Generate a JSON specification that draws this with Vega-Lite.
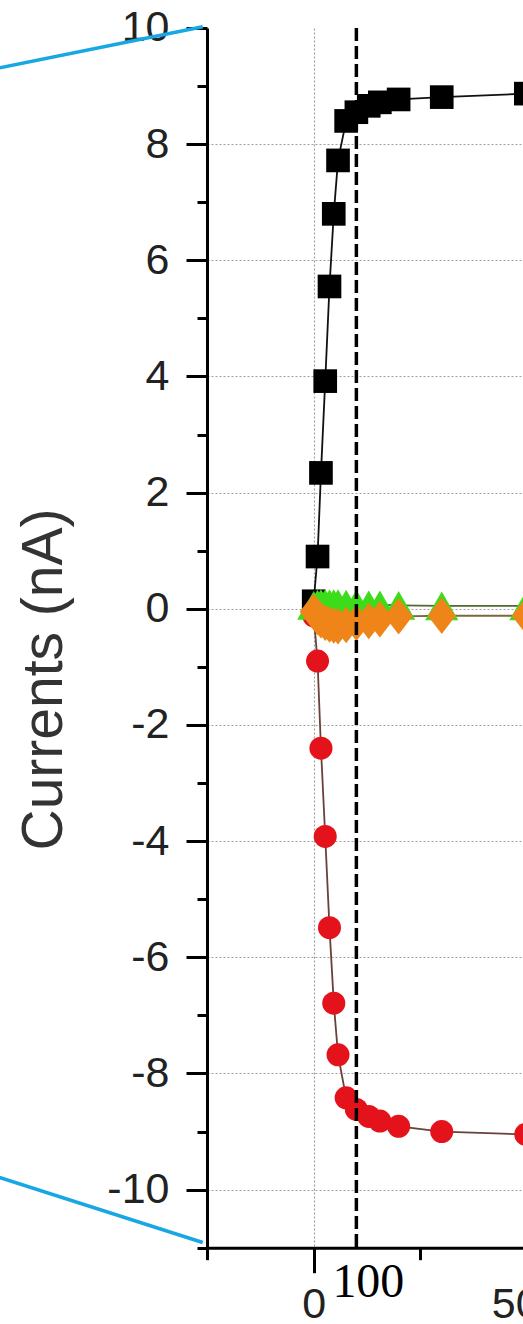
{
  "$schema": "https://vega.github.io/schema/vega-lite/v6.json",
  "autosize": {"type": "none"},
  "padding": {"left": 207, "top": 28, "right": 0, "bottom": 80},
  "width": 533.5,
  "height": 1219.7,
  "background": "white",
  "config": {"view": {"stroke": null}, "font": "Liberation Sans"},
  "datasets": {
    "currents": [
      {"series": "S1", "t": 0, "v": 0.13},
      {"series": "S1", "t": 9, "v": 0.9},
      {"series": "S1", "t": 17, "v": 2.34},
      {"series": "S1", "t": 27, "v": 3.92},
      {"series": "S1", "t": 37, "v": 5.55},
      {"series": "S1", "t": 47, "v": 6.8},
      {"series": "S1", "t": 57, "v": 7.72},
      {"series": "S1", "t": 76, "v": 8.4},
      {"series": "S1", "t": 100, "v": 8.55},
      {"series": "S1", "t": 129, "v": 8.66},
      {"series": "S1", "t": 155, "v": 8.72},
      {"series": "S1", "t": 199, "v": 8.77},
      {"series": "S1", "t": 300, "v": 8.81},
      {"series": "S1", "t": 497, "v": 8.87},
      {"series": "S2", "t": 0, "v": -0.12},
      {"series": "S2", "t": 9, "v": -0.9},
      {"series": "S2", "t": 17, "v": -2.4},
      {"series": "S2", "t": 27, "v": -3.92},
      {"series": "S2", "t": 37, "v": -5.49},
      {"series": "S2", "t": 47, "v": -6.79},
      {"series": "S2", "t": 57, "v": -7.68},
      {"series": "S2", "t": 76, "v": -8.42},
      {"series": "S2", "t": 100, "v": -8.62},
      {"series": "S2", "t": 129, "v": -8.74},
      {"series": "S2", "t": 155, "v": -8.82},
      {"series": "S2", "t": 199, "v": -8.91},
      {"series": "S2", "t": 300, "v": -9.0},
      {"series": "S2", "t": 497, "v": -9.05},
      {"series": "S3", "t": 0, "v": 0.06},
      {"series": "S3", "t": 9, "v": 0.08},
      {"series": "S3", "t": 17, "v": 0.09},
      {"series": "S3", "t": 27, "v": 0.09},
      {"series": "S3", "t": 37, "v": 0.09},
      {"series": "S3", "t": 47, "v": 0.09},
      {"series": "S3", "t": 57, "v": 0.09},
      {"series": "S3", "t": 76, "v": 0.08},
      {"series": "S3", "t": 100, "v": 0.08},
      {"series": "S3", "t": 129, "v": 0.07},
      {"series": "S3", "t": 155, "v": 0.07},
      {"series": "S3", "t": 199, "v": 0.06},
      {"series": "S3", "t": 300, "v": 0.05},
      {"series": "S3", "t": 497, "v": 0.05},
      {"series": "S4", "t": 0, "v": -0.05},
      {"series": "S4", "t": 9, "v": -0.14},
      {"series": "S4", "t": 17, "v": -0.2},
      {"series": "S4", "t": 27, "v": -0.24},
      {"series": "S4", "t": 37, "v": -0.27},
      {"series": "S4", "t": 47, "v": -0.29},
      {"series": "S4", "t": 57, "v": -0.3},
      {"series": "S4", "t": 76, "v": -0.28},
      {"series": "S4", "t": 100, "v": -0.24},
      {"series": "S4", "t": 129, "v": -0.21},
      {"series": "S4", "t": 155, "v": -0.18},
      {"series": "S4", "t": 199, "v": -0.13},
      {"series": "S4", "t": 300, "v": -0.12},
      {"series": "S4", "t": 497, "v": -0.12}
    ],
    "zoomGuides": [
      {"t": -800, "v": 9.22, "t2": -260, "v2": 10.02},
      {"t": -800, "v": -9.64, "t2": -260, "v2": -10.91}
    ],
    "marker": [{"t": 100, "label": "100"}]
  },
  "layer": [
    {
      "data": {"name": "zoomGuides"},
      "mark": {"type": "rule", "color": "#17a7e3", "strokeWidth": 3.5, "clip": false},
      "encoding": {
        "x": {
          "field": "t", "type": "quantitative",
          "scale": {"domain": [-250, 1000], "nice": false, "zero": false},
          "axis": {
            "title": null,
            "values": [-250, 0, 250, 500, 750, 1000],
            "labelExpr": "datum.value % 500 === 0 ? '' + datum.value : ''",
            "labelFont": "Liberation Sans", "labelFontSize": 43, "labelColor": "#222",
            "labelPadding": 11, "labelFlush": false, "labelOverlap": false,
            "tickSize": {"condition": {"test": "datum.value % 500 !== 0", "value": 12}, "value": 25},
            "tickWidth": 3, "tickColor": "black",
            "domainWidth": 3, "domainColor": "black",
            "grid": true, "gridDash": [2, 2], "gridColor": "#a0a0a0", "gridWidth": 1.2,
            "gridOpacity": {"condition": {"test": "datum.value % 500 !== 0", "value": 0}, "value": 1}
          }
        },
        "y": {
          "field": "v", "type": "quantitative",
          "scale": {"domain": [-11, 10], "nice": false, "zero": false},
          "axis": {
            "title": "Currents (nA)",
            "values": [-11, -10, -9, -8, -7, -6, -5, -4, -3, -2, -1, 0, 1, 2, 3, 4, 5, 6, 7, 8, 9, 10],
            "labelExpr": "datum.value % 2 === 0 ? '' + datum.value : ''",
            "labelFont": "Liberation Sans", "labelFontSize": 43, "labelColor": "#222",
            "labelPadding": 17, "labelFlush": false, "labelOverlap": false,
            "tickSize": {"condition": {"test": "datum.value % 2 !== 0", "value": 10}, "value": 21},
            "tickWidth": 3, "tickColor": "black",
            "domainWidth": 3, "domainColor": "black",
            "grid": true, "gridDash": [2, 2], "gridColor": "#a0a0a0", "gridWidth": 1.2,
            "gridOpacity": {"condition": {"test": "datum.value % 2 !== 0 || datum.value === 10", "value": 0}, "value": 1},
            "titleFont": "Liberation Sans", "titleFontSize": 57, "titleFontWeight": "normal", "titleColor": "#333",
            "titleX": -163, "titleY": 651, "titleAngle": -90, "titleAlign": "center", "titleBaseline": "middle"
          }
        },
        "x2": {"field": "t2"},
        "y2": {"field": "v2"}
      }
    },
    {
      "data": {"name": "currents"},
      "mark": {"type": "line", "strokeWidth": 1.8},
      "encoding": {
        "x": {"field": "t", "type": "quantitative"},
        "y": {"field": "v", "type": "quantitative"},
        "color": {
          "field": "series", "type": "nominal", "legend": null,
          "scale": {"domain": ["S1", "S2", "S3", "S4"], "range": ["#111111", "#6a4038", "#4f6a2e", "#7a6a3a"]}
        }
      }
    },
    {
      "data": {"name": "currents"},
      "transform": [{"filter": "datum.series === 'S1'"}],
      "mark": {"type": "point", "shape": "square", "filled": true, "size": 560, "color": "#000000", "opacity": 1},
      "encoding": {
        "x": {"field": "t", "type": "quantitative"},
        "y": {"field": "v", "type": "quantitative"}
      }
    },
    {
      "data": {"name": "currents"},
      "transform": [{"filter": "datum.series === 'S2'"}],
      "mark": {"type": "point", "shape": "circle", "filled": true, "size": 530, "color": "#e3121b", "opacity": 1},
      "encoding": {
        "x": {"field": "t", "type": "quantitative"},
        "y": {"field": "v", "type": "quantitative"}
      }
    },
    {
      "data": {"name": "currents"},
      "transform": [{"filter": "datum.series === 'S3'"}],
      "mark": {"type": "point", "shape": "triangle-up", "filled": true, "size": 1100, "color": "#3ddc1a", "opacity": 1},
      "encoding": {
        "x": {"field": "t", "type": "quantitative"},
        "y": {"field": "v", "type": "quantitative"}
      }
    },
    {
      "data": {"name": "currents"},
      "transform": [{"filter": "datum.series === 'S4'"}],
      "mark": {"type": "point", "shape": "M0,-1.3L1,0L0,1.3L-1,0Z", "filled": true, "size": 784, "color": "#ef8418", "opacity": 1},
      "encoding": {
        "x": {"field": "t", "type": "quantitative"},
        "y": {"field": "v", "type": "quantitative"}
      }
    },
    {
      "data": {"name": "marker"},
      "mark": {"type": "rule", "color": "black", "strokeWidth": 3.5, "strokeDash": [13, 5]},
      "encoding": {
        "x": {"field": "t", "type": "quantitative"}
      }
    },
    {
      "data": {"name": "marker"},
      "mark": {"type": "text", "font": "Liberation Serif", "fontSize": 48, "align": "left", "baseline": "alphabetic", "dx": -24, "color": "black", "clip": false},
      "encoding": {
        "x": {"field": "t", "type": "quantitative"},
        "y": {"datum": -11.85, "type": "quantitative"},
        "text": {"field": "label"}
      }
    }
  ]
}
